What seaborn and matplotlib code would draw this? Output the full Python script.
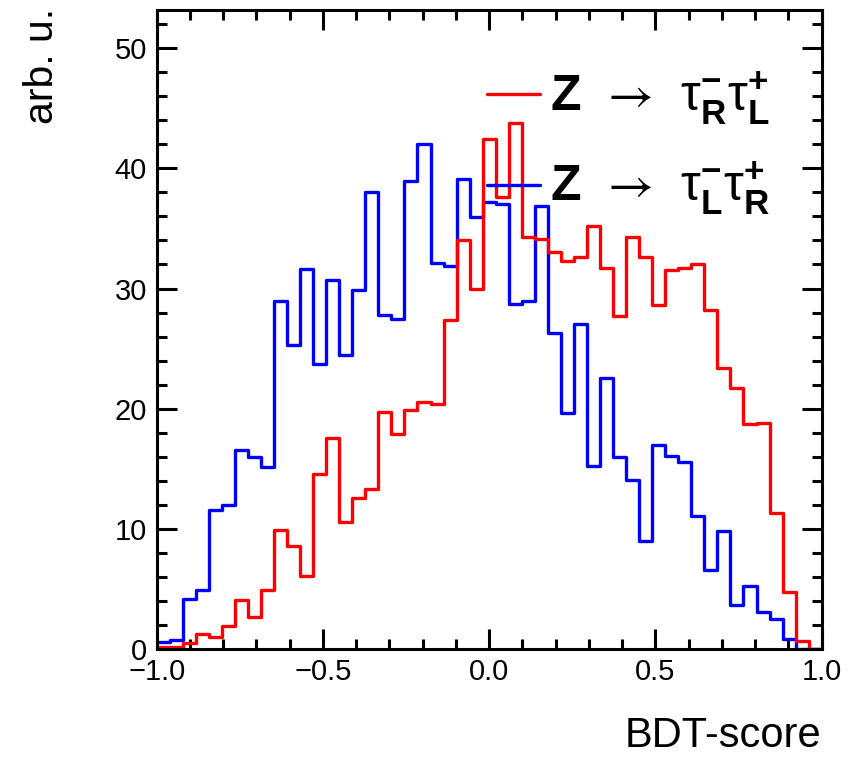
import numpy as np
import pandas as pd
import matplotlib
matplotlib.use("Agg")
import matplotlib.pyplot as plt
from matplotlib.lines import Line2D
from matplotlib.ticker import MultipleLocator
import seaborn as sns

# BDT-score histogram: 51 equal bins on [-1, 1]
n_bins = 51
score_range = (-1.0, 1.0)

# bin contents (arb. u.), Z -> tau_R tau_L
counts_RL = [0.2, 0.2, 0.5, 1.3, 1.05, 1.9, 4.1, 2.7, 4.9, 9.9,
             8.6, 6.1, 14.6, 17.6, 10.6, 12.6, 13.3, 19.7, 17.9, 19.9,
             20.6, 20.4, 27.4, 34.0, 30.0, 42.4, 37.6, 43.8, 34.3, 34.1,
             33.0, 32.3, 32.6, 35.2, 31.7, 27.7, 34.3, 32.6, 28.6, 31.5,
             31.7, 32.0, 28.2, 23.4, 21.75, 18.7, 18.8, 11.3, 4.75, 0.65,
             0.0]

# bin contents (arb. u.), Z -> tau_L tau_R
counts_LR = [0.6, 0.8, 4.2, 4.9, 11.6, 12.0, 16.55, 15.95, 15.2, 29.0,
             25.3, 31.6, 23.7, 30.7, 24.5, 29.9, 38.0, 27.8, 27.5, 38.9,
             42.0, 32.1, 31.9, 39.1, 35.95, 37.2, 37.0, 28.7, 28.95, 36.9,
             26.3, 19.65, 27.05, 15.25, 22.6, 16.0, 14.1, 9.0, 17.0, 16.05,
             15.6, 11.1, 6.57, 9.83, 3.7, 5.3, 3.1, 2.5, 0.83, 0.0,
             0.0]

sample_names = ["RL", "LR"]
sample_colors = ["#ff0000", "#0000ff"]
legend_labels = [
    r"$\mathbf{Z}\;\,\mathsf{\rightarrow}\;\,\mathrm{\tau}^{\mathbf{-}}_{\mathbf{R}}\mathrm{\tau}^{\mathbf{+}}_{\mathbf{L}}$",
    r"$\mathbf{Z}\;\,\mathsf{\rightarrow}\;\,\mathrm{\tau}^{\mathbf{-}}_{\mathbf{L}}\mathrm{\tau}^{\mathbf{+}}_{\mathbf{R}}$",
]
x_ticks = [-1.0, -0.5, 0.0, 0.5, 1.0]
x_tick_labels = ["\u22121.0", "\u22120.5", "0.0", "0.5", "1.0"]
y_ticks = [0, 10, 20, 30, 40, 50]
y_tick_labels = ["0", "10", "20", "30", "40", "50"]

sns.set_theme(style="ticks")
plt.rcParams["font.family"] = ["Liberation Sans", "DejaVu Sans"]
plt.rcParams["text.color"] = "black"
plt.rcParams["axes.labelcolor"] = "black"
plt.rcParams["mathtext.fontset"] = "custom"
plt.rcParams["mathtext.rm"] = "Liberation Sans"
plt.rcParams["mathtext.it"] = "Liberation Sans:italic"
plt.rcParams["mathtext.bf"] = "Liberation Sans:bold"
plt.rcParams["mathtext.sf"] = "STIXGeneral"

bin_edges = np.linspace(score_range[0], score_range[1], n_bins + 1)
centers = 0.5 * (bin_edges[:-1] + bin_edges[1:])
df = pd.DataFrame({
    "score": np.concatenate([centers, centers]),
    "weight": np.concatenate([counts_RL, counts_LR]),
    "sample": [sample_names[0]] * len(centers) + [sample_names[1]] * len(centers),
})

fig = plt.figure(figsize=(8.58, 7.57), dpi=100)
ax = fig.add_axes([156.7 / 858, 1 - 649.3 / 757, 665 / 858, 639.8 / 757])

sns.histplot(data=df, x="score", weights="weight", hue="sample",
             hue_order=sample_names, bins=n_bins, binrange=score_range,
             element="step", fill=False,
             palette=dict(zip(sample_names, sample_colors)),
             linewidth=2.4, legend=False, ax=ax)

ax.set_xlim(-1.0, 1.0)
ax.set_ylim(0, 53.2)

ax.set_xticks(x_ticks)
ax.set_xticklabels(x_tick_labels)
ax.set_yticks(y_ticks)
ax.set_yticklabels(y_tick_labels)
ax.xaxis.set_minor_locator(MultipleLocator(0.1))
ax.yaxis.set_minor_locator(MultipleLocator(2))
ax.tick_params(which="both", direction="in", top=True, right=True,
               width=2.2, color="black", labelcolor="black")
ax.tick_params(which="major", length=14.5, labelsize=21)
ax.tick_params(which="minor", length=7.2)
ax.tick_params(axis="x", which="major", pad=6)
ax.tick_params(axis="y", which="major", pad=7)
for sp in ax.spines.values():
    sp.set_linewidth(2.2)
    sp.set_color("black")

ax.set_xlabel("BDT-score", fontsize=30, color="black")
ax.xaxis.label.set_horizontalalignment("right")
ax.xaxis.label.set_verticalalignment("bottom")
ax.xaxis.set_label_coords(1.0, (649.3 - 756) / 639.8)

ax.set_ylabel("arb. u.", fontsize=29.5, color="black")
ax.yaxis.label.set_rotation_mode("anchor")
ax.yaxis.label.set_horizontalalignment("right")
ax.yaxis.label.set_verticalalignment("baseline")
ax.yaxis.set_label_coords((53 - 156.7) / 665, (649.3 - 8) / 639.8)

handles = [Line2D([], [], color=c, lw=2.4) for c in sample_colors]
ax.legend(handles, legend_labels, loc="upper left",
          bbox_to_anchor=((487 - 156.7) / 665, (649.3 - 70) / 639.8),
          frameon=False, fontsize=36, handlelength=1.06, handletextpad=0.2,
          labelspacing=0.64, borderpad=0, borderaxespad=0,
          labelcolor="black")

fig.savefig("out.png", dpi=100)
